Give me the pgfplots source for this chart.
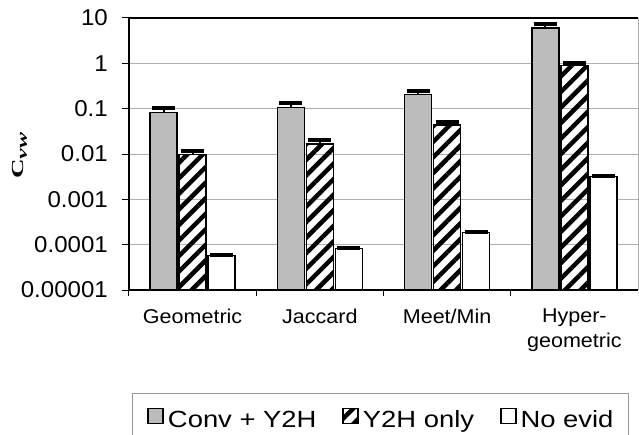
\documentclass[border=0pt]{standalone}
\usepackage{pgfplots}
\pgfplotsset{compat=1.18}
\usepackage{pgfplotstable}
\usetikzlibrary{patterns.meta}
\usepackage{fontspec}
\setmainfont{Liberation Sans}
\newfontfamily\tickfont[FakeStretch=1.05]{Liberation Sans}
\newfontfamily\catfont[FakeStretch=1.08]{Liberation Sans}
\newfontfamily\legfont[FakeStretch=1.17]{Liberation Sans}
\newfontfamily\labfont{Liberation Serif}
\definecolor{bargray}{RGB}{188,188,188}
\definecolor{gridgray}{RGB}{175,175,175}

\pgfplotstableread{
x gray grayerr hatch hatcherr white whiteerr
0 0.0815 0.020 0.0098 0.0020 0.0000572 0.0000020
1 0.107 0.024 0.0166 0.0038 0.000083 0.000003
2 0.203 0.046 0.0437 0.0071 0.000187 0.000006
3 6.0 1.3 0.904 0.13 0.00322 0.00012
}\datatable

\begin{document}
\begin{tikzpicture}
\useasboundingbox (-129bp,-145bp) rectangle (510bp,290bp);
\begin{axis}[
  scale only axis,
  width=509bp, height=272bp,
  ymode=log, log origin=infty,
  ymin=1e-5, ymax=10,
  xmin=-0.5, xmax=3.5,
  enlargelimits=false,
  ybar, bar width=27bp,
  axis x line*=bottom, axis y line*=left,
  axis line style={black, line width=1.5bp},
  ytick={1e-5,1e-4,1e-3,1e-2,1e-1,1,10},
  yticklabels={0.00001,0.0001,0.001,0.01,0.1,1,10},
  yminorticks=false,
  ymajorgrids, grid style={gridgray, line width=0.9bp},
  extra y ticks={10}, extra y tick labels={},
  extra y tick style={grid style={black, line width=1.5bp}},
  extra x ticks={3.5}, extra x tick labels={},
  extra x tick style={xmajorgrids, grid style={gridgray, line width=0.9bp}},
  tick align=outside,
  major tick length=7bp,
  minor tick length=6bp,
  tick style={black, line width=1bp},
  xtick={0,1,2,3},
  xticklabels={Geometric,Jaccard,Meet/Min,{Hyper-\\geometric}},
  major x tick style={draw=none},
  minor xtick={-0.5,0.5,1.5,2.5},
  yticklabel style={font=\tickfont\fontsize{23}{23}\selectfont, inner sep=0pt, xshift=-14bp},
  xticklabel style={font=\catfont\fontsize{20}{25}\selectfont, align=center, inner sep=0pt, yshift=-12bp},
  legend style={at={(axis description cs:0,0)}, anchor=north west, xshift=3bp, yshift=-103bp,
    draw=gray!80, line width=1bp, inner xsep=15bp, inner ysep=14bp,
    font=\legfont\fontsize{23.5}{23.5}\selectfont,
    /tikz/every odd column/.append style={column sep=4bp},
    /tikz/every even column/.append style={column sep=26bp},
    nodes={inner sep=0pt}},
  legend columns=3,
  legend cell align=left,
  error bars/y dir=plus, error bars/y explicit,
  error bars/error bar style={black, line width=2bp},
  error bars/error mark=-,
  error bars/error mark options={black, line width=4bp, mark size=11.5bp, rotate=90},
  sq legend/.style={legend image code/.code={\draw[##1,draw=black,line width=1.5bp] (0bp,-3bp) rectangle (15bp,12bp);}},
  clip=false,
]
\addplot[bar shift=-29bp, fill=bargray, draw=black, line width=1.5bp, sq legend]
  table[x=x, y=gray, y error=grayerr] {\datatable};
\addlegendentry{Conv + Y2H}
\addplot[bar shift=0bp, pattern={Lines[angle=45,distance=11bp,line width=4.5bp]}, pattern color=black, draw=black, line width=1.5bp, sq legend]
  table[x=x, y=hatch, y error=hatcherr] {\datatable};
\addlegendentry{Y2H only}
\addplot[bar shift=29bp, fill=white, draw=black, line width=1.5bp, sq legend]
  table[x=x, y=white, y error=whiteerr] {\datatable};
\addlegendentry{No evid}
\node[rotate=90, anchor=center, inner sep=0pt] at (axis description cs:-0.215,0.493)
  {\scalebox{1.6}[1]{\labfont\fontsize{17}{17}\selectfont\bfseries C\raisebox{-3.5bp}{\fontsize{15}{15}\selectfont\bfseries\itshape vw}}};
\end{axis}
\end{tikzpicture}
\end{document}
